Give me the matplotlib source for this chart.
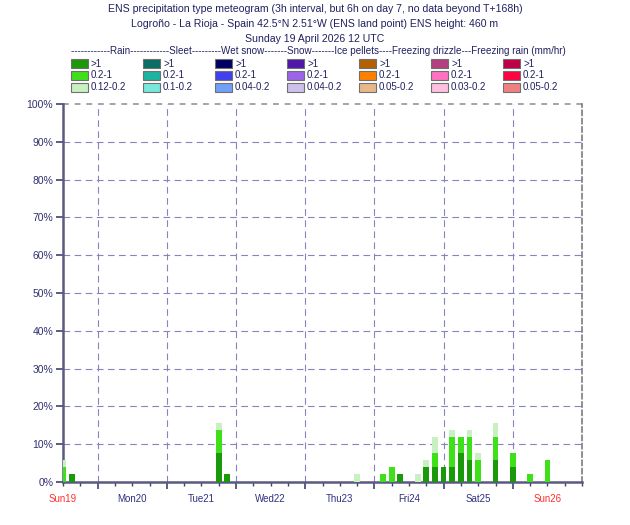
import matplotlib.pyplot as plt
from matplotlib.patches import Rectangle

plt.rcParams['font.family'] = ['Liberation Sans', 'DejaVu Sans']

# forecast hour (from Sun 19 Apr 12 UTC) and cumulative probability (%) of rain
hours = [0, 3, 54, 57, 102, 111, 114, 117, 123, 126, 129, 132, 135, 138, 141, 144, 150, 156, 162, 168]
rain_gt1 = [0, 2.0, 7.8, 2.0, 0, 0, 0, 2.0, 0, 3.9, 3.9, 3.9, 3.9, 7.8, 5.9, 0, 5.9, 3.9, 0, 0]
rain_gt02 = [3.9, 2.0, 13.7, 2.0, 0, 2.0, 3.9, 2.0, 0, 3.9, 7.8, 3.9, 11.8, 11.8, 11.8, 5.9, 11.8, 7.8, 2.0, 5.9]
rain_gt012 = [5.9, 2.0, 15.7, 2.0, 2.0, 2.0, 3.9, 2.0, 2.0, 5.9, 11.8, 3.9, 13.7, 11.8, 13.7, 7.8, 15.7, 7.8, 2.0, 5.9]

day_labels = ['Sun19', 'Mon20', 'Tue21', 'Wed22', 'Thu23', 'Fri24', 'Sat25', 'Sun26']
day_colors = ['#ff3030', '#303080', '#303080', '#303080', '#303080', '#303080', '#303080', '#ff3030']

legend_types = ['Rain', 'Sleet', 'Wet snow', 'Snow', 'Ice pellets', 'Freezing drizzle', 'Freezing rain']
legend_colors = [
    ['#1a9a0a', '#3ee01a', '#c8f0c0'],
    ['#0a6e64', '#1ab4a0', '#78e8dc'],
    ['#000060', '#4040f0', '#70a0f8'],
    ['#5018a8', '#9c64e8', '#d0c0ec'],
    ['#b46000', '#ff8000', '#e8b888'],
    ['#b44080', '#ff70c0', '#ffc0e0'],
    ['#c00048', '#ff0040', '#f08080'],
]
legend_labels = [
    ['>1', '0.2-1', '0.12-0.2'],
    ['>1', '0.2-1', '0.1-0.2'],
    ['>1', '0.2-1', '0.04-0.2'],
    ['>1', '0.2-1', '0.04-0.2'],
    ['>1', '0.2-1', '0.05-0.2'],
    ['>1', '0.2-1', '0.03-0.2'],
    ['>1', '0.2-1', '0.05-0.2'],
]

navy = '#202060'
fig = plt.figure(figsize=(6.3, 5.25), dpi=100)
ax = fig.add_axes([63 / 630, 43 / 525, 519 / 630, 378 / 525])

ax.bar(hours, rain_gt012, width=2, color=legend_colors[0][2], zorder=3)
ax.bar(hours, rain_gt02, width=2, color=legend_colors[0][1], zorder=3)
ax.bar(hours, rain_gt1, width=2, color=legend_colors[0][0], zorder=3)

ax.set_xlim(0, 180)
ax.set_ylim(0, 100)

ax.set_yticks(range(0, 101, 10))
ax.set_yticklabels([f'{v}%' for v in range(0, 101, 10)], fontsize=7.5, color='#303070')
ax.set_xticks(range(12, 180, 24))
ax.set_xticklabels([])
ax.set_xticks(range(0, 181, 6), minor=True)
ax.tick_params(axis='x', which='major', length=5, width=1.2, color='#404070', direction='out')
ax.tick_params(axis='x', which='minor', length=3, width=1, color='#404070', direction='out')
ax.tick_params(axis='y', length=5, width=1.2, color='#404070', pad=2)

for i, (lab, c) in enumerate(zip(day_labels, day_colors)):
    ax.text(i * 24, -3.2, lab, ha='center', va='top', fontsize=7, color=c)

for v in range(10, 100, 10):
    ax.axhline(v, color='#8484c0', lw=0.8, ls=(0, (6, 4)), zorder=1)
for h in range(12, 180, 24):
    ax.axvline(h, color='#8484c0', lw=0.8, ls=(0, (6, 4)), zorder=1)
ax.axhline(100, color='#a8a2a8', lw=1.4, ls=(0, (3, 3)), zorder=1, clip_on=False)

for s in ['left', 'bottom']:
    ax.spines[s].set_color('#5a5a80')
    ax.spines[s].set_linewidth(1.8)
ax.spines['top'].set_visible(False)
ax.spines['right'].set_color('#807880')
ax.spines['right'].set_linestyle((0, (3, 2)))
ax.spines['right'].set_linewidth(1.2)

fig.text(0.5, 1 - 9 / 525, 'ENS precipitation type meteogram (3h interval, but 6h on day 7, no data beyond T+168h)',
         ha='center', va='center', fontsize=7.6, color=navy)
fig.text(0.5, 1 - 24 / 525, 'Logroño - La Rioja - Spain 42.5°N 2.51°W (ENS land point) ENS height: 460 m',
         ha='center', va='center', fontsize=7.6, color=navy)
fig.text(0.5, 1 - 39 / 525, 'Sunday 19 April 2026 12 UTC', ha='center', va='center', fontsize=7.6, color=navy)

header = ('------------Rain------------Sleet---------Wet snow-------Snow-------Ice pellets'
          '----Freezing drizzle---Freezing rain (mm/hr)')
fig.text(318 / 630, 1 - 51 / 525, header, ha='center', va='center', fontsize=7.15, color=navy)

for j in range(len(legend_types)):
    x0 = 71 + 72 * j
    for k in range(3):
        yc = 64 + 11.5 * k
        fig.patches.append(Rectangle((x0 / 630, 1 - (yc + 4.5) / 525), 17 / 630, 9 / 525,
                                     transform=fig.transFigure, facecolor=legend_colors[j][k],
                                     edgecolor='#707070', lw=0.8))
        fig.text((x0 + 20) / 630, 1 - yc / 525, legend_labels[j][k], ha='left', va='center',
                 fontsize=7, color=navy)

plt.savefig('out.png', dpi=100)
